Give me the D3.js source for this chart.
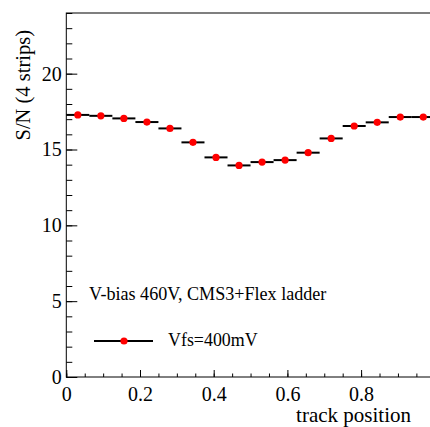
<html>
    <script src="https://d3js.org/d3.v7.min.js"></script>
    <head>
        <style>
        body {margin: 0; background: white;}
        svg {display: block; overflow: hidden;}
        text {font-family: "Liberation Serif", "Times New Roman", serif; fill: black;}
        </style>
    </head>
    <body onload='init()'>
        <div id="chart"></div>
        <script>
            // track position bins (16 bins over 0..1) and S/N per bin
            var binCenters = [0.03125, 0.09375, 0.15625, 0.21875, 0.28125, 0.34375, 0.40625, 0.46875,
                              0.53125, 0.59375, 0.65625, 0.71875, 0.78125, 0.84375, 0.90625, 0.96875];
            var binHalfWidth = 0.03125;
            var snValues = [17.28, 17.22, 17.05, 16.81, 16.39, 15.47, 14.48, 13.95,
                            14.17, 14.30, 14.79, 15.73, 16.55, 16.79, 17.14, 17.14];
            var xTicks = [0, 0.2, 0.4, 0.6, 0.8];
            var yTicks = [0, 5, 10, 15, 20];
            var legendLabel = "Vfs=400mV";
            var infoLabel = "V-bias 460V, CMS3+Flex ladder";

            function init(){
                var width = 430, height = 427;
                var serif = '"Liberation Serif", "Times New Roman", serif';
                var data = binCenters.map((c, i) => ({x: c, y: snValues[i]}));

                var x = d3.scaleLinear().domain([0, 1]).range([66.3, 434.8]);
                var y = d3.scaleLinear().domain([0, 24]).range([377, 13]);

                const svg = d3.select("#chart")
                    .append("svg")
                    .attr("width", width)
                    .attr("height", height);

                // frame (top + left, right side falls outside the picture)
                svg.append("rect")
                    .attr("x", x(0))
                    .attr("y", y(24))
                    .attr("width", x(1) - x(0))
                    .attr("height", y(0) - y(24))
                    .attr("fill", "none")
                    .attr("stroke", "black")
                    .attr("stroke-width", 1);

                // x axis, ticks pointing inward
                var xMinor = d3.range(0, 1.0001, 0.05);
                svg.append("g")
                    .attr("transform", "translate(0," + y(0) + ")")
                    .call(d3.axisBottom(x).tickValues(xMinor).tickSize(-3.5).tickFormat(""))
                    .call(g => g.select(".domain").remove());
                svg.append("g")
                    .attr("class", "x-axis")
                    .attr("transform", "translate(0," + y(0) + ")")
                    .attr("font-family", null)
                    .call(d3.axisBottom(x).tickValues(xTicks).tickSize(-7).tickPadding(9.5)
                        .tickFormat(d => d === 0 ? "0" : d3.format(".1f")(d)))
                    .call(g => g.attr("font-family", null).attr("font-size", null))
                    .call(g => g.select(".domain").remove())
                    .selectAll("text")
                    .style("font-family", serif)
                    .style("font-size", "20px")
                    .attr("fill", "black");

                // y axis
                var yMinor = d3.range(0, 24.001, 1);
                svg.append("g")
                    .attr("transform", "translate(" + x(0) + ",0)")
                    .call(d3.axisLeft(y).tickValues(yMinor).tickSize(-6).tickFormat(""))
                    .call(g => g.select(".domain").remove());
                svg.append("g")
                    .attr("class", "y-axis")
                    .attr("transform", "translate(" + x(0) + ",0)")
                    .call(d3.axisLeft(y).tickValues(yTicks).tickSize(-11))
                    .call(g => g.attr("font-family", null).attr("font-size", null))
                    .call(g => g.select(".domain").remove())
                    .selectAll("text")
                    .style("font-family", serif)
                    .style("font-size", "20px")
                    .attr("fill", "black")
                    .attr("dy", "0.32em")
                    .attr("x", -4.5);

                svg.selectAll(".tick line").attr("stroke", "black");

                // horizontal error bars
                svg.selectAll(".ebar")
                    .data(data)
                    .enter()
                    .append("line")
                    .attr("class", "ebar")
                    .attr("x1", d => x(d.x - binHalfWidth))
                    .attr("x2", d => x(d.x + binHalfWidth))
                    .attr("y1", d => y(d.y))
                    .attr("y2", d => y(d.y))
                    .attr("stroke", "black")
                    .attr("stroke-width", 2);

                // markers
                svg.selectAll(".pt")
                    .data(data)
                    .enter()
                    .append("circle")
                    .attr("class", "pt")
                    .attr("cx", d => x(d.x))
                    .attr("cy", d => y(d.y))
                    .attr("r", 3.6)
                    .attr("fill", "red");

                // axis titles
                svg.append("text")
                    .attr("text-anchor", "end")
                    .attr("x", 411)
                    .attr("y", 421.5)
                    .attr("font-size", 21)
                    .text("track position");

                svg.append("text")
                    .attr("text-anchor", "end")
                    .attr("transform", "translate(30,30) rotate(-90)")
                    .attr("font-size", 20.5)
                    .text("S/N (4 strips)");

                // info text
                svg.append("text")
                    .attr("x", 89)
                    .attr("y", 299.5)
                    .attr("font-size", 18.1)
                    .text(infoLabel);

                // legend
                svg.append("line")
                    .attr("x1", 94).attr("x2", 153)
                    .attr("y1", 341).attr("y2", 341)
                    .attr("stroke", "black")
                    .attr("stroke-width", 2);
                svg.append("circle")
                    .attr("cx", 124).attr("cy", 341)
                    .attr("r", 3.6)
                    .attr("fill", "red");
                svg.append("text")
                    .attr("x", 168)
                    .attr("y", 346)
                    .attr("font-size", 17.9)
                    .text(legendLabel);
            }
        </script>
    </body>
</html>
